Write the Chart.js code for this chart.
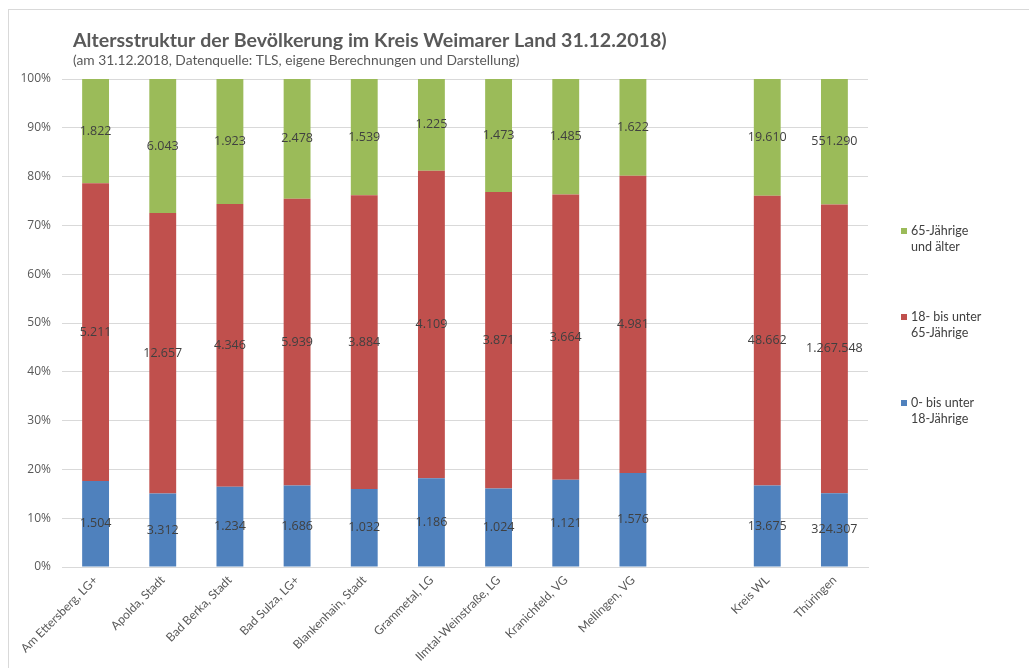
<!DOCTYPE html>
<html>
<head>
<meta charset="utf-8">
<script src="https://cdn.jsdelivr.net/npm/chart.js@4"></script>
<style>
  html, body { margin: 0; padding: 0; background: #fff; }
  #wrap { position: relative; width: 1029px; height: 668px; overflow: hidden; }
  #frame { position: absolute; left: 8px; top: 9px; width: 1200px; height: 800px; border: 1px solid #d9d9d9; }
  canvas { position: absolute; left: 0; top: 0; }
</style>
</head>
<body>
<div id="wrap">
  <div id="frame"></div>
  <canvas id="c" width="1029" height="668"></canvas>
</div>
<script>
const titleText = 'Altersstruktur der Bevölkerung im Kreis Weimarer Land 31.12.2018)';
const subtitleText = '(am 31.12.2018, Datenquelle: TLS, eigene Berechnungen und Darstellung)';
const categories = ['Am Ettersberg, LG+', 'Apolda, Stadt', 'Bad Berka, Stadt', 'Bad Sulza, LG+', 'Blankenhain, Stadt', 'Grammetal, LG', 'Ilmtal-Weinstraße, LG', 'Kranichfeld, VG', 'Mellingen, VG', '', 'Kreis WL', 'Thüringen'];
const unter18 = [1504, 3312, 1234, 1686, 1032, 1186, 1024, 1121, 1576, null, 13675, 324307];
const bis65 = [5211, 12657, 4346, 5939, 3884, 4109, 3871, 3664, 4981, null, 48662, 1267548];
const ab65 = [1822, 6043, 1923, 2478, 1539, 1225, 1473, 1485, 1622, null, 19610, 551290];
const seriesNames = [['0- bis unter', '18-Jährige'], ['18- bis unter', '65-Jährige'], ['65-Jährige', 'und älter']];
const seriesColors = ['#4F81BD', '#C0504D', '#9BBB59'];
const yTickStep = 10;

const totals = categories.map((_, i) => unter18[i] == null ? null : unter18[i] + bis65[i] + ab65[i]);
const pct = arr => arr.map((v, i) => v == null ? null : v / totals[i] * 100);
const raws = [unter18, bis65, ab65];
const fmt = n => String(n).replace(/\B(?=(\d{3})+(?!\d))/g, '.');

const overlayPlugin = {
  id: 'overlay',
  afterDatasetsDraw(chart) {
    const ctx = chart.ctx;
    ctx.save();
    // data labels
    ctx.font = '12.5px "Open Sans", sans-serif';
    ctx.fillStyle = '#404040';
    ctx.textAlign = 'center';
    ctx.textBaseline = 'middle';
    chart.data.datasets.forEach((ds, di) => {
      const meta = chart.getDatasetMeta(di);
      meta.data.forEach((el, i) => {
        const v = raws[di][i];
        if (v == null) return;
        ctx.fillText(fmt(v), el.x, (el.y + el.base) / 2);
      });
    });
    // title
    ctx.textAlign = 'left';
    ctx.textBaseline = 'alphabetic';
    ctx.fillStyle = '#595959';
    ctx.font = 'bold 19.6px Lato, sans-serif';
    ctx.fillText(titleText, 73, 47);
    ctx.font = '13.8px Lato, sans-serif';
    ctx.fillText(subtitleText, 73, 65);
    // legend
    const ys = [403, 317, 231];
    ctx.font = '12.5px Lato, sans-serif';
    ctx.textBaseline = 'middle';
    seriesNames.forEach((lines, k) => {
      ctx.fillStyle = seriesColors[k];
      ctx.fillRect(901, ys[k] - 3, 6, 6);
      ctx.fillStyle = '#404040';
      lines.forEach((t, j) => ctx.fillText(t, 911, ys[k] + j * 15.5));
    });
    ctx.restore();
  }
};

new Chart(document.getElementById('c'), {
  type: 'bar',
  data: {
    labels: categories,
    datasets: [
      { label: seriesNames[0].join(' '), data: pct(unter18), backgroundColor: seriesColors[0] },
      { label: seriesNames[1].join(' '), data: pct(bis65), backgroundColor: seriesColors[1] },
      { label: seriesNames[2].join(' '), data: pct(ab65), backgroundColor: seriesColors[2] }
    ]
  },
  options: {
    responsive: false,
    animation: false,
    layout: { padding: { left: 0, right: 161, top: 79, bottom: 0 } },
    datasets: { bar: { barPercentage: 0.4, categoryPercentage: 1.0 } },
    plugins: { legend: { display: false }, tooltip: { enabled: false }, title: { display: false } },
    scales: {
      x: {
        stacked: true,
        grid: { display: false, drawTicks: false },
        border: { display: true, color: '#d9d9d9' },
        ticks: { maxRotation: 45, minRotation: 45, autoSkip: false, color: '#595959', padding: 6, font: { family: 'Lato, sans-serif', size: 12 } },
        afterFit: s => { s.height = 101; }
      },
      y: {
        stacked: true,
        min: 0, max: 100,
        grid: { color: '#d9d9d9', drawTicks: false },
        border: { display: false },
        ticks: { stepSize: yTickStep, color: '#595959', padding: 11, font: { family: '"Open Sans", sans-serif', size: 12 }, callback: v => v + '%' },
        afterFit: s => { s.width = 62; }
      }
    }
  },
  plugins: [overlayPlugin]
});
</script>
</body>
</html>
